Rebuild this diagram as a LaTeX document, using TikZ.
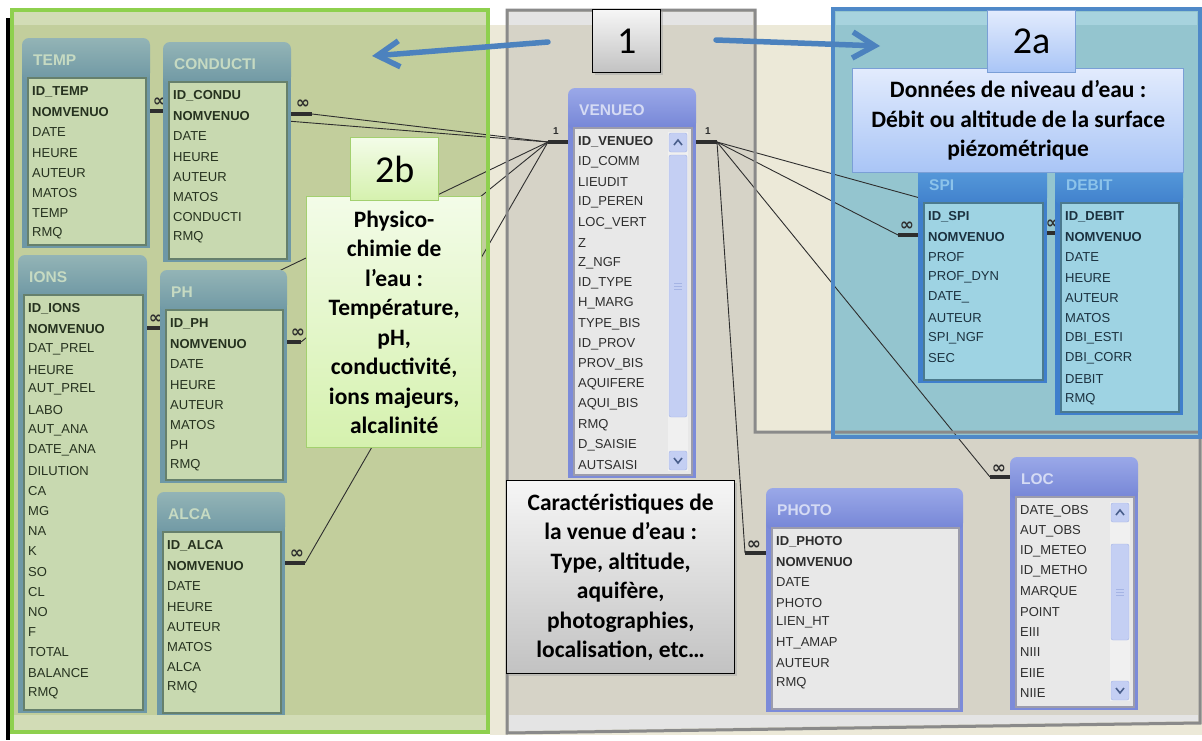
\documentclass[tikz,border=0pt]{standalone}
\usepackage{fontspec}
\setmainfont{Liberation Sans}
\newfontfamily\calib{Carlito}
\newfontfamily\dejav{DejaVu Sans}
\usetikzlibrary{arrows.meta}

\definecolor{creambg}{HTML}{ECE9D8}
\definecolor{greenbg}{HTML}{C2CE9C}
\definecolor{greentop}{HTML}{D2DCB6}
\definecolor{greenln}{HTML}{8ED04E}
\definecolor{greybg}{HTML}{D6D3C7}
\definecolor{greytop}{HTML}{E4E4E4}
\definecolor{greyln}{HTML}{8A8A8A}
\definecolor{bluebg}{HTML}{94C5CF}
\definecolor{bluetop}{HTML}{A7D3DE}
\definecolor{blueln}{HTML}{4F89C8}
\definecolor{arrowc}{HTML}{4C82BE}
\definecolor{relc}{HTML}{2E2E2E}
% green scheme
\definecolor{gfr}{HTML}{6E98A6}\definecolor{gha}{HTML}{93B4B6}\definecolor{ghb}{HTML}{6F98A4}
\definecolor{gls}{HTML}{C8D9B0}\definecolor{glb}{HTML}{66806C}\definecolor{gtx}{HTML}{26321F}\definecolor{gtt}{HTML}{C6DAC2}
% periwinkle scheme
\definecolor{pfr}{HTML}{7C8BD9}\definecolor{pha}{HTML}{9AA8E8}\definecolor{phb}{HTML}{7585D6}
\definecolor{pls}{HTML}{E8E8E8}\definecolor{plb}{HTML}{9C9CAC}\definecolor{ptx}{HTML}{2E2E2E}\definecolor{ptt}{HTML}{D5DBF4}
% blue scheme
\definecolor{bfr}{HTML}{3F7FCC}\definecolor{bha}{HTML}{5A9EDC}\definecolor{bhb}{HTML}{4080CC}
\definecolor{bls}{HTML}{9ED3E3}\definecolor{blb}{HTML}{4B7A8E}\definecolor{btx}{HTML}{1C3240}\definecolor{btt}{HTML}{8CC3EA}
% scrollbar
\definecolor{sctrack}{HTML}{F0F0F0}\definecolor{scbtn}{HTML}{C4CFF3}\definecolor{scbd}{HTML}{A5B4E4}\definecolor{scchev}{HTML}{4A5F8C}
% text boxes
\definecolor{boxga}{HTML}{F6F6F6}\definecolor{boxgb}{HTML}{C2C2C2}
\definecolor{boxba}{HTML}{E2EBFD}\definecolor{boxbb}{HTML}{A9C5F6}\definecolor{boxbd}{HTML}{7A9FD6}
\definecolor{boxva}{HTML}{F3FCE8}\definecolor{boxvb}{HTML}{D5F1AE}\definecolor{boxvd}{HTML}{A3D06F}

% #1 scheme, #2 name, #3 x1, #4 y1, #5 x2, #6 y2, #7 title, #8 number of bold rows, #9 rows
\newcommand{\acctable}[9]{%
  \fill[#1fr] (#3,-#4-20) rectangle (#5,-#6);
  \shade[top color=#1ha, bottom color=#1hb, rounded corners=7pt] (#3,-#4) rectangle (#5,-#4-42);
  \filldraw[fill=#1ls, draw=#1lb, line width=1.5pt] (#3+6,-#4-40) rectangle (#5-4,-#6+3);
  \node[anchor=west, inner sep=0pt, text=#1tt, font=\bfseries\fontsize{15.5}{16}\selectfont] (#2-title) at (#3+11,-#4-22) {#7};
  \foreach \t [count=\i] in {#9}{%
    \node[anchor=west, inner sep=0pt, text=#1tx, font=\fontsize{13}{14}\selectfont] (#2-\i) at (#3+10,{-#4-54-(\i-1)*20.2}) {\ifnum\i>#8\relax\t\else\textbf{\t}\fi};
  }%
}
% #1 x1, #2 x2, #3 track top, #4 track bottom, #5 thumb top, #6 thumb bottom
\newcommand{\accscroll}[6]{%
  \fill[sctrack] (#1,-#3) rectangle (#2,-#4);
  \filldraw[fill=scbtn, draw=scbd, rounded corners=2pt] (#1+1,-#3-1) rectangle (#2-1,-#3-20);
  \draw[scchev, line width=1.6pt] (#1+6,-#3-13) -- (#1+10,-#3-8) -- (#1+14,-#3-13);
  \filldraw[fill=scbtn, draw=scbd, rounded corners=2pt] (#1+1,-#4+1) rectangle (#2-1,-#4+20);
  \draw[scchev, line width=1.6pt] (#1+6,-#4+13) -- (#1+10,-#4+8) -- (#1+14,-#4+13);
  \filldraw[fill=scbtn, draw=scbd, rounded corners=2pt] (#1+1,-#5) rectangle (#2-1,-#6);
  \draw[scbd, line width=0.8pt] (#1+6,{-(#5+#6)/2+3}) -- (#1+14,{-(#5+#6)/2+3});
  \draw[scbd, line width=0.8pt] (#1+6,{-(#5+#6)/2}) -- (#1+14,{-(#5+#6)/2});
  \draw[scbd, line width=0.8pt] (#1+6,{-(#5+#6)/2-3}) -- (#1+14,{-(#5+#6)/2-3});
}

\begin{document}
\begin{tikzpicture}[x=1pt,y=1pt,
  rel/.style={draw=relc, line width=0.9pt},
  stub/.style={draw=relc, line width=3.2pt},
  inf/.style={inner sep=0pt, text=relc, font=\dejav\bfseries\fontsize{17}{17}\selectfont},
  onelab/.style={inner sep=0pt, text=relc, font=\bfseries\fontsize{10}{10}\selectfont},
  numbox/.style={anchor=north west, inner sep=0pt, line width=1.3pt, font=\calib\fontsize{38}{40}\selectfont},
  infobox/.style={anchor=north west, inner sep=2pt, align=center, font=\calib\bfseries\fontsize{23.5}{29.5}\selectfont},
  bigarrow/.style={draw=arrowc, line width=5.5pt, line cap=round, -{Straight Barb[length=22pt,width=26pt]}},
]
\useasboundingbox (0,0) rectangle (1202,-740);
% ---------- backgrounds
\fill[white] (0,0) rectangle (1202,-740);
\fill[creambg] (490,-25) rectangle (1202,-735);
\fill[greenbg] (12,-10) rectangle (488,-732);
\fill[greentop] (14,-12) rectangle (486,-25);
\fill[greybg] (507,-10) -- (755,-10) -- (755,-432) -- (1200,-432) -- (1200,-723) -- (507,-733) -- cycle;
\fill[greytop] (509,-12) rectangle (753,-25);
\fill[bluebg] (833,-9) rectangle (1200,-437);
\fill[bluetop] (836,-12) rectangle (1197,-25);
\draw[black, line width=4pt] (8,-18) -- (8,-740);

% ---------- relationship end points
\coordinate (hubL) at (548,-142);
\coordinate (hubR) at (717,-142);
\coordinate (venL) at (568,-142);
\coordinate (venR) at (695,-142);
\coordinate (tempS) at (150,-111);  \coordinate (tempE) at (163,-111);
\coordinate (conS) at (291,-114);   \coordinate (conE) at (312,-114);
\coordinate (ionsS) at (147,-328);  \coordinate (ionsE) at (160,-328);
\coordinate (phS) at (287,-342);    \coordinate (phE) at (301,-342);
\coordinate (alcaS) at (285,-563);  \coordinate (alcaE) at (305,-563);
\coordinate (spiS) at (918,-235);   \coordinate (spiE) at (898,-235);
\coordinate (debS) at (1055,-233);  \coordinate (debE) at (1047,-233);
\coordinate (photoS) at (766,-553); \coordinate (photoE) at (745,-553);
\coordinate (locS) at (1010,-477);  \coordinate (locE) at (990,-477);

\foreach \a/\b in {tempE/hubL, conE/hubL, ionsE/hubL, phE/hubL, alcaE/hubL,
                   spiE/hubR, debE/hubR, photoE/hubR, locE/hubR}
  \draw[rel] (\a) -- (\b);
\foreach \a/\b in {tempS/tempE, conS/conE, ionsS/ionsE, phS/phE, alcaS/alcaE,
                   spiS/spiE, debS/debE, photoS/photoE, locS/locE, venL/hubL, venR/hubR}
  \draw[stub] (\a) -- (\b);
\node[inf] (tempinf) at (160,-102) {∞};
\node[inf] (coninf) at (303,-104) {∞};
\node[inf] (ionsinf) at (156,-319) {∞};
\node[inf] (phinf) at (298,-333) {∞};
\node[inf] (alcainf) at (297,-554) {∞};
\node[inf] (spiinf) at (907,-226) {∞};
\node[inf] (debinf) at (1053,-224) {∞};
\node[inf] (photoinf) at (754,-545) {∞};
\node[inf] (locinf) at (999,-469) {∞};
\node[onelab] (oneL) at (556,-131) {1};
\node[onelab] (oneR) at (708,-131) {1};

% ---------- tables
\acctable{g}{temp}{22}{38}{150}{248}{TEMP}{2}{ID\_TEMP,NOMVENUO,DATE,HEURE,AUTEUR,MATOS,TEMP,RMQ}
\acctable{g}{condu}{163}{42}{291}{262}{CONDUCTI}{2}{ID\_CONDU,NOMVENUO,DATE,HEURE,AUTEUR,MATOS,CONDUCTI,RMQ}
\acctable{g}{ions}{18}{255}{147}{713}{IONS}{2}{ID\_IONS,NOMVENUO,DAT\_PREL,HEURE,AUT\_PREL,LABO,AUT\_ANA,DATE\_ANA,DILUTION,CA,MG,NA,K,SO,CL,NO,F,TOTAL,BALANCE,RMQ}
\acctable{g}{ph}{160}{270}{287}{483}{PH}{2}{ID\_PH,NOMVENUO,DATE,HEURE,AUTEUR,MATOS,PH,RMQ}
\acctable{g}{alca}{157}{492}{285}{716}{ALCA}{2}{ID\_ALCA,NOMVENUO,DATE,HEURE,AUTEUR,MATOS,ALCA,RMQ}
\acctable{p}{venueo}{568}{88}{696}{478}{VENUEO}{1}{ID\_VENUEO,ID\_COMM,LIEUDIT,ID\_PEREN,LOC\_VERT,Z,Z\_NGF,ID\_TYPE,H\_MARG,TYPE\_BIS,ID\_PROV,PROV\_BIS,AQUIFERE,AQUI\_BIS,RMQ,D\_SAISIE,AUTSAISI}
\accscroll{668}{688}{132}{471}{155}{417}
\acctable{b}{spi}{918}{163}{1047}{383}{SPI}{2}{ID\_SPI,NOMVENUO,PROF,PROF\_DYN,DATE\_,AUTEUR,SPI\_NGF,SEC}
\acctable{b}{debit}{1055}{163}{1183}{415}{DEBIT}{2}{ID\_DEBIT,NOMVENUO,DATE,HEURE,AUTEUR,MATOS,DBI\_ESTI,DBI\_CORR,DEBIT,RMQ}
\acctable{p}{photo}{766}{488}{963}{712}{PHOTO}{2}{ID\_PHOTO,NOMVENUO,DATE,PHOTO,LIEN\_HT,HT\_AMAP,AUTEUR,RMQ}
\acctable{p}{loc}{1010}{457}{1138}{710}{LOC}{0}{DATE\_OBS,AUT\_OBS,ID\_METEO,ID\_METHO,MARQUE,POINT,EIII,NIII,EIIE,NIIE}
\accscroll{1110}{1130}{502}{701}{544}{640}

% ---------- bottom strips and region borders
\fill[greentop] (14,-715) rectangle (486,-730);
\fill[greytop] (509,-715) -- (1198,-715) -- (1198,-721) -- (509,-731) -- cycle;
\draw[greenln, line width=4pt] (12,-10) rectangle (488,-732);
\draw[greyln, line width=3pt] (507,-10) -- (755,-10) -- (755,-432) -- (1200,-432) -- (1200,-723) -- (507,-733) -- cycle;
\draw[blueln, line width=4pt] (833,-9) rectangle (1200,-437);

% ---------- annotation boxes
\fill[black!35, opacity=0.5] (595,-12) rectangle (663,-75);
\node[numbox, draw=black, top color=boxga, bottom color=boxgb, minimum width=68pt, minimum height=63pt] (one) at (592,-9) {1};

\node[infobox, draw=boxbd, line width=1.3pt, top color=boxba, bottom color=boxbb, minimum width=331pt, minimum height=104pt] (niveau) at (852,-68)
  {Données de niveau d’eau :\\Débit ou altitude de la surface\\piézométrique};
\node[numbox, draw=boxbd, top color=boxba, bottom color=boxbb, minimum width=88pt, minimum height=62pt] (twoa) at (987,-10) {2a};

\node[infobox, draw=boxvd, line width=1.3pt, top color=boxva, bottom color=boxvb, minimum width=175pt, minimum height=251pt] (physico) at (306,-196)
  {Physico-\\chimie de\\l’eau :\\Température,\\pH,\\conductivité,\\ions majeurs,\\alcalinité};
\node[numbox, draw=boxvd, top color=boxva, bottom color=boxvb, minimum width=88pt, minimum height=63pt] (twob) at (350,-137) {2b};

\fill[black!35, opacity=0.5] (509,-483) rectangle (737,-676);
\node[infobox, draw=black, line width=1.3pt, top color=boxga, bottom color=boxgb, minimum width=228pt, minimum height=193pt] (caract) at (506,-480)
  {Caractéristiques de\\la venue d’eau :\\Type, altitude,\\aquifère,\\photographies,\\localisation, etc…};

% ---------- arrows
\coordinate (aLs) at (548,-42); \coordinate (aLe) at (372,-56);
\coordinate (aRs) at (716,-40); \coordinate (aRe) at (880,-46);
\draw[bigarrow] (aLs) -- (aLe);
\draw[bigarrow] (aRs) -- (aRe);
\end{tikzpicture}
\end{document}
